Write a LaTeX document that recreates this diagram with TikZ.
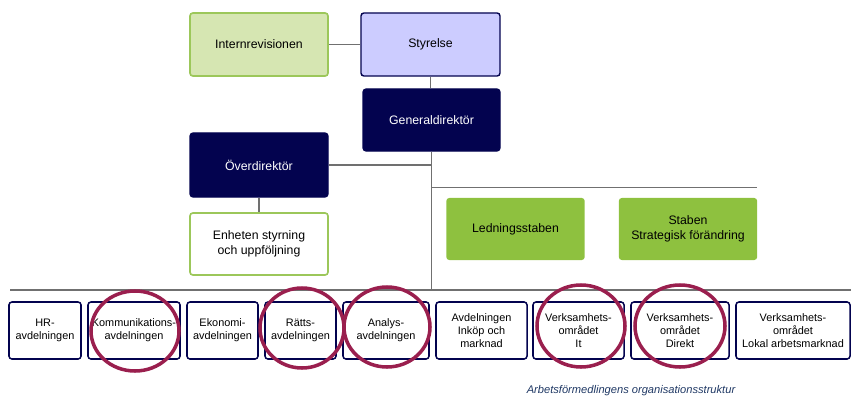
\documentclass[tikz,border=0pt]{standalone}
\usepackage{fontspec}
\setmainfont{Liberation Sans}
\usetikzlibrary{positioning,shapes.geometric}

\definecolor{navy}{HTML}{03034F}
\definecolor{lavender}{HTML}{CCCCFF}
\definecolor{palegreen}{HTML}{D6E6B2}
\definecolor{leafgreen}{HTML}{9CC75A}
\definecolor{stabgreen}{HTML}{8EC13F}
\definecolor{ringred}{HTML}{9A1F4E}
\definecolor{linegray}{HTML}{707070}
\definecolor{captionblue}{HTML}{1F3864}

\begin{document}
\begin{tikzpicture}[x=0.03cm,y=-0.03cm,
    box/.style={rectangle,rounded corners=2.5pt,align=center,font=\fontsize{10.5}{12.5}\selectfont},
    navybox/.style={box,draw=navy,fill=navy,text=white,line width=1pt},
    boardbox/.style={box,draw=navy,fill=lavender,line width=1.2pt},
    auditbox/.style={box,draw=leafgreen,fill=palegreen,line width=1.4pt},
    unitbox/.style={box,draw=leafgreen,fill=white,line width=1.4pt},
    stabbox/.style={box,fill=stabgreen,minimum width=4.15cm,minimum height=1.86cm},
    deptbox/.style={box,draw=navy,fill=white,line width=1.3pt,minimum height=1.71cm,
        inner sep=1pt,font=\fontsize{9.3}{11}\selectfont},
    ring/.style={ellipse,draw=ringred,line width=3pt},
    link/.style={draw=linegray,line width=1pt}]

    \useasboundingbox (0,0) rectangle (851,398);

    % Top
    \node[auditbox,minimum width=4.14cm,minimum height=1.89cm] (intern) at (259,44.5) {Internrevisionen};
    \node[boardbox,minimum width=4.17cm,minimum height=1.89cm] (styr) at (430.5,44.5) {Styrelse};
    \node[navybox,minimum width=4.11cm,minimum height=1.86cm] (gd) at (431.5,120) {Generaldirektör};

    % Left branch
    \node[navybox,minimum width=4.14cm,minimum height=1.92cm] (od) at (259,165) {Överdirektör};
    \node[unitbox,minimum width=4.14cm,minimum height=1.86cm] (enh) at (259,244) {Enheten styrning\\och uppföljning};

    % Staff
    \node[stabbox] (led) at (515.5,229) {Ledningsstaben};
    \node[stabbox] (strat) at (688,229) {Staben\\Strategisk förändring};

    % Departments
    \node[deptbox,minimum width=2.16cm] (hr) at (45,330.5) {HR-\\avdelningen};
    \node[deptbox,minimum width=2.76cm] (komm) at (134,330.5) {Kommunikations-\\avdelningen};
    \node[deptbox,minimum width=2.13cm] (eko) at (222.5,330.5) {Ekonomi-\\avdelningen};
    \node[deptbox,minimum width=2.13cm] (ratt) at (300.5,330.5) {Rätts-\\avdelningen};
    \node[deptbox,minimum width=2.58cm] (analys) at (386,330.5) {Analys-\\avdelningen};
    \node[deptbox,minimum width=2.73cm] (inkop) at (481.5,330.5) {Avdelningen\\Inköp och\\marknad};
    \node[deptbox,minimum width=2.73cm] (it) at (578.5,330.5) {Verksamhets-\\området\\It};
    \node[deptbox,minimum width=2.94cm] (direkt) at (680,330.5) {Verksamhets-\\området\\Direkt};
    \node[deptbox,minimum width=3.42cm] (lokal) at (793,330.5) {Verksamhets-\\området\\Lokal arbetsmarknad};

    % Connections
    \coordinate (barL) at (10,290);
    \coordinate (barR) at (851,290);
    \coordinate (stabR) at (757,187.5);
    \path[link] (intern) -- (styr);
    \path[link] (styr.south) -- (styr.south |- gd.north);
    \path[link] (gd.south) -- (gd.south |- barL);
    \path[link] (od.east) -- (od.east -| gd.south);
    \path[link] (od) -- (enh);
    \path[link] (gd.south |- stabR) -- (stabR);
    \path[link] (barL) -- (barR);

    % Highlights
    \node[ring,minimum width=2.64cm,minimum height=2.4cm] (ringkomm) at (135,331) {};
    \node[ring,minimum width=2.52cm,minimum height=2.4cm] (ringratt) at (302,328) {};
    \node[ring,minimum width=2.58cm,minimum height=2.4cm] (ringanalys) at (387,327) {};
    \node[ring,minimum width=2.64cm,minimum height=2.46cm] (ringit) at (581,326) {};
    \node[ring,minimum width=2.7cm,minimum height=2.46cm] (ringdirekt) at (680,326) {};

    % Caption
    \node[font=\fontsize{9.5}{11}\selectfont\itshape,text=captionblue,inner sep=1pt] (caption) at (631,390.5) {Arbetsförmedlingens organisationsstruktur};
\end{tikzpicture}
\end{document}
